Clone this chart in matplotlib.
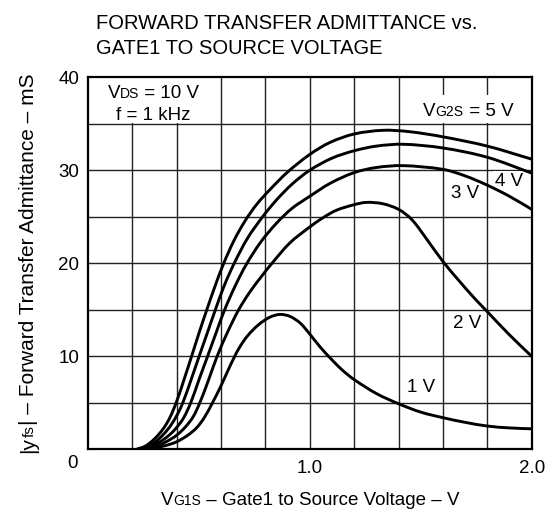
import numpy as np
import matplotlib
matplotlib.use("Agg")
import matplotlib.pyplot as plt
from matplotlib.patches import Rectangle, PathPatch
from matplotlib.path import Path
from matplotlib.text import Text
from matplotlib.transforms import IdentityTransform

plt.rcParams['font.family'] = ['Liberation Sans', 'DejaVu Sans']

# ---------------- data ----------------
vg1s_5v = [0.22, 0.26, 0.30, 0.34, 0.37, 0.40, 0.434, 0.468, 0.50, 0.535, 0.57, 0.611,
           0.66, 0.71, 0.76, 0.82, 0.90, 1.0, 1.092, 1.2, 1.33, 1.45, 1.6, 1.8, 2.0]
yfs_5v = [0, 0.35, 1.1, 2.2, 3.4, 5.1, 7.5, 10, 12.4, 14.9, 17.3, 19.9,
          22.5, 24.6, 26.3, 27.9, 29.8, 31.7, 33.0, 33.9, 34.3, 34.15, 33.6, 32.6, 31.2]

vg1s_4v = [0.225, 0.265, 0.305, 0.345, 0.375, 0.405, 0.43, 0.466, 0.502, 0.54, 0.575, 0.615,
           0.66, 0.72, 0.788, 0.85, 0.92, 1.0, 1.1, 1.2, 1.3, 1.42, 1.6, 1.8, 2.0]
yfs_4v = [0, 0.25, 0.8, 1.7, 2.6, 3.8, 5.1, 7.5, 10.0, 12.6, 15.0, 17.6,
          20.0, 22.7, 25.0, 26.8, 28.5, 30.0, 31.3, 32.1, 32.6, 32.8, 32.4, 31.4, 29.7]

vg1s_3v = [0.23, 0.27, 0.31, 0.35, 0.39, 0.43, 0.464, 0.50, 0.54, 0.578, 0.615,
           0.665, 0.715, 0.78, 0.85, 0.92, 1.0, 1.092, 1.2, 1.3, 1.42, 1.6, 1.7, 1.8, 1.9, 2.0]
yfs_3v = [0, 0.2, 0.6, 1.2, 2.05, 3.3, 5.0, 7.4, 10.0, 12.5, 14.9,
          17.6, 19.9, 22.3, 24.3, 25.9, 27.2, 28.6, 29.75, 30.3, 30.5, 30.1, 29.4, 28.4, 27.2, 25.8]

vg1s_2v = [0.235, 0.28, 0.32, 0.36, 0.40, 0.44, 0.475, 0.505, 0.545, 0.583, 0.63,
           0.68, 0.73, 0.78, 0.83, 0.911, 1.0, 1.06, 1.12, 1.2, 1.256, 1.33, 1.4, 1.46,
           1.53, 1.6, 1.67, 1.74, 1.8, 1.9, 2.0]
yfs_2v = [0, 0.15, 0.45, 0.9, 1.5, 2.4, 3.5, 5.0, 7.5, 10.0, 12.6,
          15.0, 16.9, 18.5, 20.0, 22.2, 23.9, 24.9, 25.7, 26.3, 26.55, 26.4, 25.8, 24.7,
          22.5, 20.2, 18.2, 16.3, 14.8, 12.3, 10.0]

vg1s_1v = [0.24, 0.30, 0.35, 0.40, 0.45, 0.49, 0.525, 0.562, 0.60, 0.64, 0.68, 0.72,
           0.77, 0.82, 0.866, 0.91, 0.956, 1.0, 1.047, 1.105, 1.15, 1.2, 1.3, 1.4, 1.5,
           1.6, 1.7, 1.8, 1.9, 2.0]
yfs_1v = [0, 0.15, 0.4, 0.8, 1.5, 2.3, 3.4, 5.0, 6.8, 8.9, 10.8, 12.2,
          13.4, 14.2, 14.5, 14.3, 13.6, 12.4, 11.0, 9.5, 8.45, 7.5, 6.0, 4.9, 4.0,
          3.4, 2.9, 2.5, 2.3, 2.2]

x_ticks = [1.0, 2.0]
x_tick_labels = ["1.0", "2.0"]
y_ticks = [10, 20, 30, 40]
y_tick_labels = ["10", "20", "30", "40"]
x_grid = [0.2, 0.4, 0.6, 0.8, 1.0, 1.2, 1.4, 1.6, 1.8]
y_grid = [5, 10, 15, 20, 25, 30, 35]

curve_labels = ["1 V", "2 V", "3 V", "4 V"]
curve_label_pos = [(1.503, 6.6), (1.71, 13.55), (1.70, 27.5), (1.899, 28.8)]

# ---------------- figure ----------------
W, H = 554, 519
fig = plt.figure(figsize=(W / 100, H / 100), dpi=100)
ax = fig.add_axes([87.7 / W, 1 - 449.3 / H, (531.7 - 87.7) / W, (449.3 - 77.3) / H])
ax.set_xlim(0, 2.0)
ax.set_ylim(0, 40)

for gx in x_grid:
    ax.axvline(gx, color='#222222', lw=1.0, zorder=1)
for gy in y_grid:
    ax.axhline(gy, color='#222222', lw=1.0, zorder=1)

# white boxes behind condition labels
ax.add_patch(Rectangle((0.0, 35.12), 0.595, 4.88, facecolor='white', edgecolor='none', zorder=2))
ax.add_patch(Rectangle((1.49, 35.12), 0.45, 3.0, facecolor='white', edgecolor='none', zorder=2))


def smooth_curve(xs, ys, **kw):
    """Draw a smooth Bezier curve through the read points (in display space)."""
    P = ax.transData.transform(np.column_stack([xs, ys]))
    n = len(P)
    T = np.zeros_like(P)
    for i in range(n):
        if i == 0:
            d = P[1] - P[0]
        elif i == n - 1:
            d = P[-1] - P[-2]
        else:
            d = P[i + 1] - P[i - 1]
        T[i] = d / np.hypot(*d)
    verts = [P[0]]
    codes = [Path.MOVETO]
    for i in range(n - 1):
        L = np.hypot(*(P[i + 1] - P[i])) / 3.0
        verts += [P[i] + T[i] * L, P[i + 1] - T[i + 1] * L, P[i + 1]]
        codes += [Path.CURVE4] * 3
    vd = ax.transData.inverted().transform(np.array(verts))
    ax.add_patch(PathPatch(Path(vd, codes), fill=False, **kw))


for xs, ys in [(vg1s_5v, yfs_5v), (vg1s_4v, yfs_4v), (vg1s_3v, yfs_3v),
               (vg1s_2v, yfs_2v), (vg1s_1v, yfs_1v)]:
    smooth_curve(xs, ys, edgecolor='black', lw=2.1, zorder=3, capstyle='butt',
                 joinstyle='round')

for lab, (lx, ly) in zip(curve_labels, curve_label_pos):
    ax.text(lx, ly, lab, fontsize=13.5, ha='center', va='center', zorder=2.5,
            bbox=dict(boxstyle='square,pad=0.1', facecolor='white', edgecolor='none'))

ax.set_xticks(x_ticks)
ax.set_xticklabels(x_tick_labels)
ax.set_yticks(y_ticks)
ax.set_yticklabels(y_tick_labels)
ax.tick_params(axis='both', length=0, labelsize=13.5)
ax.tick_params(axis='x', pad=8)
ax.tick_params(axis='y', pad=6)
ax.annotate("0", xy=(0, 0), xycoords='data', xytext=(-11, -10), textcoords='offset points',
            ha='center', va='center', fontsize=13.5)
for sp in ax.spines.values():
    sp.set_linewidth(1.6)
    sp.set_zorder(5)

# ---------------- rich text helper (small subscripts on the baseline) ----------------
renderer = fig.canvas.get_renderer()


def text_width(s, size):
    ref = Text(0, 0, "|", fontsize=size)
    ref.set_figure(fig)
    t = Text(0, 0, "|" + s, fontsize=size)
    t.set_figure(fig)
    return t.get_window_extent(renderer).width - ref.get_window_extent(renderer).width


def rich(x, y, pieces, rotation=0):
    """x, y: centre along the text direction and baseline position (display px)."""
    widths = [text_width(s, sz) for s, sz in pieces]
    total = sum(widths)
    if rotation == 0:
        pos = x - total / 2
        for (s, sz), w in zip(pieces, widths):
            fig.text(pos, y, s, fontsize=sz, ha='left', va='baseline',
                     transform=IdentityTransform(), zorder=6)
            pos += w
    else:
        # x = baseline x, y = centre along text
        pos = y - total / 2
        for (s, sz), w in zip(pieces, widths):
            fig.text(x, pos, s, fontsize=sz, ha='left', va='baseline',
                     rotation=90, rotation_mode='anchor',
                     transform=IdentityTransform(), zorder=6)
            pos += w


BIG, SMALL = 13.5, 10

# condition labels (positions in data units)
px, py = ax.transData.transform((0.296, 37.75))
rich(px, py, [("V", BIG), ("DS", SMALL), (" = 10 V", BIG)])
px, py = ax.transData.transform((0.296, 35.45))
rich(px, py, [("f = 1 kHz", BIG)])
px, py = ax.transData.transform((1.714, 35.8))
rich(px, py, [("V", BIG), ("G2S", SMALL), (" = 5 V", BIG)])

# title
fig.text(96, H - 29, "FORWARD TRANSFER ADMITTANCE vs.", fontsize=14.5, ha='left',
         va='baseline', transform=IdentityTransform())
fig.text(96, H - 54, "GATE1 TO SOURCE VOLTAGE", fontsize=14.5, ha='left',
         va='baseline', transform=IdentityTransform())

# x label
rich(310, 14, [("V", BIG), ("G1S", SMALL), (" \u2013 Gate1 to Source Voltage \u2013 V", BIG)])

# y label (rotated)
rich(34, H - 263, [("|y", 15), ("fs", 11), ("| \u2013 Forward Transfer Admittance \u2013 mS", 15)],
     rotation=90)

fig.savefig("out.png", dpi=100)
